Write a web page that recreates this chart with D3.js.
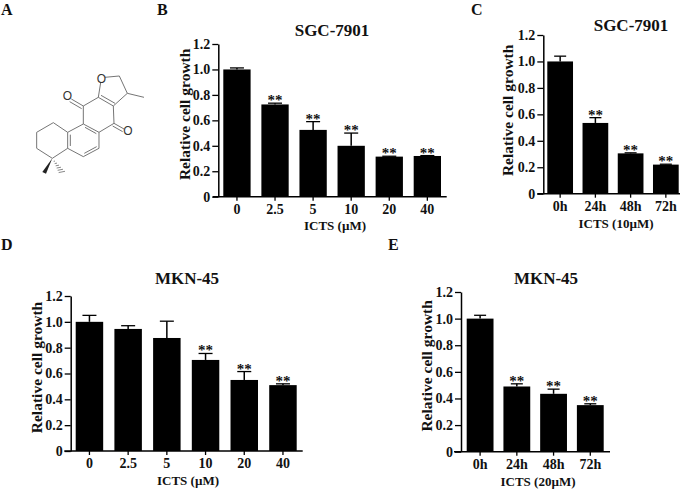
<!DOCTYPE html>
<html>
<head>
<meta charset="utf-8">
<script src="https://cdn.jsdelivr.net/npm/d3@7"></script>
<style>
  body { margin: 0; background: #fff; }
  svg { display: block; }
  text { font-family: "Liberation Serif", serif; font-weight: bold; fill: #111; }
</style>
</head>
<body>
<svg width="685" height="489"></svg>
<script>
const doseLabels = ["0", "2.5", "5", "10", "20", "40"];
const timeLabels = ["0h", "24h", "48h", "72h"];
const yTicks = [0, 0.2, 0.4, 0.6, 0.8, 1.0, 1.2];

const sgcDoseValues = [1.0, 0.725, 0.525, 0.40, 0.315, 0.32];
const sgcDoseErrors = [0.012, 0.01, 0.065, 0.10, 0.003, 0.003];
const sgcDoseStars = [false, true, true, true, true, true];

const sgcTimeValues = [1.0, 0.535, 0.305, 0.22];
const sgcTimeErrors = [0.04, 0.04, 0.004, 0.003];
const sgcTimeStars = [false, true, true, true];

const mknDoseValues = [1.0, 0.945, 0.875, 0.705, 0.55, 0.51];
const mknDoseErrors = [0.05, 0.025, 0.13, 0.05, 0.065, 0.01];
const mknDoseStars = [false, false, false, true, true, true];

const mknTimeValues = [1.0, 0.49, 0.435, 0.35];
const mknTimeErrors = [0.025, 0.02, 0.035, 0.01];
const mknTimeStars = [false, true, true, true];

const svg = d3.select("svg");

function drawPanel(p) {
  const g = svg.append("g");

  const x = d3.scaleBand()
    .domain(p.labels)
    .range([p.barLeft, p.barRight])
    .paddingInner(p.gap)
    .paddingOuter(0);
  const y = d3.scaleLinear().domain([0, 1.2]).range([p.y0, p.y1]);

  const rows = p.labels.map((label, i) => ({
    label, value: p.values[i], err: p.errors[i], star: p.stars[i]
  }));

  // error bars first, the bars sit on top
  const err = g.selectAll(".err").data(rows).enter().append("g");
  err.append("line")
    .attr("x1", d => x(d.label) + x.bandwidth() / 2)
    .attr("x2", d => x(d.label) + x.bandwidth() / 2)
    .attr("y1", d => y(d.value))
    .attr("y2", d => y(d.value + d.err))
    .attr("stroke", "#000").attr("stroke-width", 1.5);
  err.append("line")
    .attr("x1", d => x(d.label) + x.bandwidth() / 2 - p.cap)
    .attr("x2", d => x(d.label) + x.bandwidth() / 2 + p.cap)
    .attr("y1", d => y(d.value + d.err))
    .attr("y2", d => y(d.value + d.err))
    .attr("stroke", "#000").attr("stroke-width", 1.3);

  g.selectAll(".bar").data(rows).enter().append("rect")
    .attr("class", "bar")
    .attr("x", d => x(d.label))
    .attr("y", d => y(d.value))
    .attr("width", x.bandwidth())
    .attr("height", d => y(0) - y(d.value))
    .attr("fill", "#000");

  g.selectAll(".star").data(rows.filter(d => d.star)).enter().append("text")
    .attr("x", d => x(d.label) + x.bandwidth() / 2)
    .attr("y", d => y(d.value + d.err) + 2)
    .attr("text-anchor", "middle")
    .style("font-size", "15px")
    .text("**");

  // x axis, the line runs past the last bar
  const xAxis = g.append("g")
    .attr("transform", `translate(0,${p.y0})`)
    .call(d3.axisBottom(x).tickSize(4).tickSizeOuter(0).tickPadding(3.5));
  xAxis.select(".domain").remove();
  xAxis.append("line")
    .attr("x1", p.axisLeft).attr("x2", p.axisRight)
    .attr("stroke", "#000").attr("stroke-width", 1.5);
  xAxis.selectAll(".tick line").attr("stroke", "#000").attr("stroke-width", 1.3);
  xAxis.selectAll(".tick text")
    .attr("fill", "#111")
    .style("font-family", "Liberation Serif")
    .style("font-size", "14px");

  const yAxis = g.append("g")
    .attr("transform", `translate(${p.yAxisX},0)`)
    .call(d3.axisLeft(y).tickValues(yTicks).tickSize(6).tickSizeOuter(0).tickPadding(2)
      .tickFormat(d => d === 0 ? "0" : d3.format(".1f")(d)));
  yAxis.select(".domain").attr("stroke", "#000").attr("stroke-width", 1.5);
  yAxis.selectAll(".tick line").attr("stroke", "#000").attr("stroke-width", 1.3);
  yAxis.selectAll(".tick text")
    .attr("fill", "#111")
    .style("font-family", "Liberation Serif")
    .style("font-size", "14px");

  g.append("text")
    .attr("x", p.titleX).attr("y", p.titleY)
    .attr("text-anchor", "middle")
    .style("font-size", "17px")
    .text(p.title);

  g.append("text")
    .attr("x", p.xLabelX).attr("y", p.xLabelY)
    .attr("text-anchor", "middle")
    .style("font-size", "13px")
    .text(p.xLabel);

  g.append("text")
    .attr("transform", `translate(${p.yLabelX},${(p.y0 + p.y1) / 2 + p.yLabelShift}) rotate(-90)`)
    .attr("text-anchor", "middle")
    .style("font-size", "15.5px")
    .text("Relative cell growth");
}

drawPanel({
  labels: doseLabels, values: sgcDoseValues, errors: sgcDoseErrors, stars: sgcDoseStars,
  title: "SGC-7901", xLabel: "ICTS (µM)",
  barLeft: 223.3, barRight: 441, gap: 0.283, cap: 7,
  y0: 196.7, y1: 44, axisLeft: 212.7, axisRight: 446.7, yAxisX: 218.3,
  titleX: 332, titleY: 36, xLabelX: 335, xLabelY: 230, yLabelX: 190, yLabelShift: -6
});
drawPanel({
  labels: timeLabels, values: sgcTimeValues, errors: sgcTimeErrors, stars: sgcTimeStars,
  title: "SGC-7901", xLabel: "ICTS (10µM)",
  barLeft: 547.3, barRight: 678.7, gap: 0.27, cap: 6,
  y0: 193.7, y1: 35, axisLeft: 537.3, axisRight: 680, yAxisX: 543.3,
  titleX: 631, titleY: 31, xLabelX: 616, xLabelY: 228, yLabelX: 513, yLabelShift: -4
});
drawPanel({
  labels: doseLabels, values: mknDoseValues, errors: mknDoseErrors, stars: mknDoseStars,
  title: "MKN-45", xLabel: "ICTS (µM)",
  barLeft: 75.7, barRight: 296.7, gap: 0.29, cap: 7,
  y0: 451, y1: 296, axisLeft: 64.3, axisRight: 302.7, yAxisX: 70.7,
  titleX: 187, titleY: 284, xLabelX: 188, xLabelY: 485, yLabelX: 42, yLabelShift: -6
});
drawPanel({
  labels: timeLabels, values: mknTimeValues, errors: mknTimeErrors, stars: mknTimeStars,
  title: "MKN-45", xLabel: "ICTS (20µM)",
  barLeft: 466.7, barRight: 603.7, gap: 0.27, cap: 6,
  y0: 451.7, y1: 292, axisLeft: 454, axisRight: 610, yAxisX: 461,
  titleX: 546, titleY: 284, xLabelX: 538, xLabelY: 486, yLabelX: 432, yLabelShift: -6
});

// panel letters
const panelLetters = ["A", "B", "C", "D", "E"];
const letterX = [1, 157, 471, 1, 388];
const letterY = [14.5, 14.5, 14.5, 250, 250];
svg.selectAll(".letter").data(panelLetters).enter().append("text")
  .attr("x", (d, i) => letterX[i])
  .attr("y", (d, i) => letterY[i])
  .style("font-size", "16px")
  .text(d => d);

// chemical structure of panel A, segments as x1,y1,x2,y2
const bonds = [
  [315, 232, 358, 228], [358, 228, 382, 280], [382, 280, 432, 292], [382, 280, 340, 318],
  [340, 318, 295, 292], [345, 310, 303, 286], [295, 292, 302, 248],
  [295, 292, 250, 318], [250, 318, 250, 372], [250, 372, 297, 397],
  [255, 382, 289, 401],
  [297, 397, 342, 370], [342, 370, 340, 318],
  [250, 318, 214, 297], [245, 326, 209, 305],
  [342, 370, 372, 387], [338, 378, 368, 395],
  [297, 397, 297, 445], [297, 445, 250, 470], [290, 440, 253, 460],
  [250, 470, 203, 445], [203, 445, 203, 397], [211, 438, 211, 404],
  [203, 397, 250, 372], [203, 397, 160, 368], [160, 368, 110, 397],
  [110, 397, 110, 445], [110, 445, 157, 475], [157, 475, 203, 445]
];
const hashes = [0.2, 0.35, 0.5, 0.65, 0.8, 0.95];
const mol = svg.append("g").attr("transform", "scale(0.3333)");
mol.selectAll("line.bond").data(bonds).enter().append("line")
  .attr("x1", d => d[0]).attr("y1", d => d[1])
  .attr("x2", d => d[2]).attr("y2", d => d[3])
  .attr("stroke", "#6a6a6a").attr("stroke-width", 2.8);
mol.append("path").attr("d", "M157,475L127,516L138,521Z").attr("fill", "#222");
mol.selectAll("line.hash").data(hashes).enter().append("line")
  .attr("x1", t => 157 + 30 * t - 10 * t).attr("x2", t => 157 + 30 * t + 10 * t)
  .attr("y1", t => 475 + 43 * t + 2 * t).attr("y2", t => 475 + 43 * t - 2 * t)
  .attr("stroke", "#6a6a6a").attr("stroke-width", 2.4);
const atoms = [[304, 236], [202, 289], [384, 393]];
mol.selectAll("text.atom").data(atoms).enter().append("text")
  .attr("x", d => d[0]).attr("y", d => d[1])
  .attr("text-anchor", "middle").attr("dominant-baseline", "central")
  .style("font-family", "Liberation Sans")
  .style("font-weight", "normal")
  .style("font-size", "36px")
  .style("fill", "#333")
  .text("O");
</script>
</body>
</html>
